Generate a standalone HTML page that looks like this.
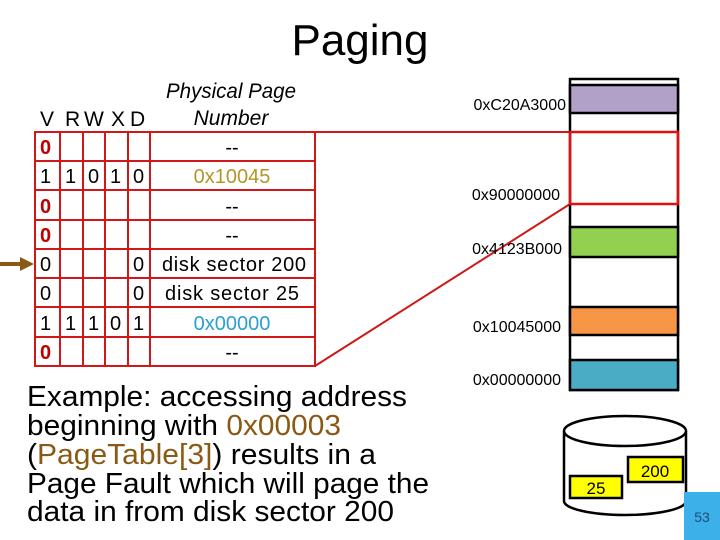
<!DOCTYPE html>
<html><head><meta charset="utf-8"><style>
html,body{margin:0;padding:0;background:#fff;width:720px;height:540px;overflow:hidden}
svg{display:block}
text{font-family:"Liberation Sans",Arial,sans-serif}
</style></head><body>
<svg width="720" height="540" viewBox="0 0 720 540" xmlns="http://www.w3.org/2000/svg">
<text x="360" y="55" font-size="44" text-anchor="middle">Paging</text>

<g font-size="21" fill="#000">
<text x="231" y="98" text-anchor="middle" font-style="italic" textLength="130" lengthAdjust="spacingAndGlyphs">Physical Page</text>
<text x="231" y="125" text-anchor="middle" font-style="italic">Number</text>
<text x="40" y="126">V</text><text x="65" y="126">R</text><text x="84" y="126">W</text><text x="111" y="126">X</text><text x="130" y="126">D</text>
</g>

<g stroke="#d01818" stroke-width="2" fill="none">
<rect x="35" y="132" width="280" height="234"/>
<line x1="60" y1="132" x2="60" y2="366"/>
<line x1="83" y1="132" x2="83" y2="366"/>
<line x1="105" y1="132" x2="105" y2="366"/>
<line x1="128" y1="132" x2="128" y2="366"/>
<line x1="150" y1="132" x2="150" y2="366"/>
<line x1="35" y1="161" x2="315" y2="161"/>
<line x1="35" y1="190" x2="315" y2="190"/>
<line x1="35" y1="220" x2="315" y2="220"/>
<line x1="35" y1="249" x2="315" y2="249"/>
<line x1="35" y1="278" x2="315" y2="278"/>
<line x1="35" y1="307" x2="315" y2="307"/>
<line x1="35" y1="337" x2="315" y2="337"/>
<line x1="315" y1="132" x2="570" y2="132"/>
<line x1="315" y1="366" x2="570" y2="204"/>
</g>
<g font-size="20">
<g fill="#c00000" font-weight="bold">
<text x="40" y="154">0</text><text x="40" y="213">0</text><text x="40" y="242">0</text><text x="40" y="359">0</text>
</g>
<text x="40" y="183">1</text><text x="65" y="183">1</text><text x="88" y="183">0</text><text x="110" y="183">1</text><text x="133" y="183">0</text>
<text x="40" y="271">0</text><text x="133" y="271">0</text>
<text x="40" y="300">0</text><text x="133" y="300">0</text>
<text x="40" y="330">1</text><text x="65" y="330">1</text><text x="88" y="330">1</text><text x="110" y="330">0</text><text x="133" y="330">1</text>
<g text-anchor="middle">
<text x="232" y="154">--</text>
<text x="232" y="183" fill="#b39628">0x10045</text>
<text x="232" y="213">--</text>
<text x="232" y="242">--</text>
<text x="234" y="271" textLength="144">disk sector 200</text>
<text x="232" y="300" textLength="134">disk sector 25</text>
<text x="232" y="330" fill="#2aa0d0">0x00000</text>
<text x="232" y="359">--</text>
</g>
</g>
<line x1="0" y1="264" x2="22" y2="264" stroke="#8a5a14" stroke-width="4"/>
<polygon points="20,257 34,264 20,271" fill="#8a5a14"/>

<g font-size="29">
<text x="27" y="406" textLength="380" lengthAdjust="spacingAndGlyphs">Example: accessing address</text>
<text x="27" y="435" textLength="314" lengthAdjust="spacingAndGlyphs">beginning with <tspan fill="#8a5a14">0x00003</tspan></text>
<text x="27" y="464" textLength="349" lengthAdjust="spacingAndGlyphs">(<tspan fill="#8a5a14">PageTable[3]</tspan>) results in a</text>
<text x="27" y="493" textLength="402" lengthAdjust="spacingAndGlyphs">Page Fault which will page the</text>
<text x="27" y="521" textLength="367" lengthAdjust="spacingAndGlyphs">data in from disk sector 200</text>
</g>

<rect x="570" y="79" width="108" height="311" fill="#fff" stroke="#000" stroke-width="2.5"/>
<rect x="570" y="85" width="108" height="28" fill="#b1a0c7" stroke="#000" stroke-width="2.5"/>
<rect x="570" y="227" width="108" height="30" fill="#92d050" stroke="#000" stroke-width="2.5"/>
<rect x="570" y="307" width="108" height="28" fill="#f79646" stroke="#000" stroke-width="2.5"/>
<rect x="570" y="360" width="108" height="30" fill="#4bacc6" stroke="#000" stroke-width="2.5"/>
<rect x="570" y="132" width="108" height="72" fill="none" stroke="#e01010" stroke-width="2.5"/>
<g font-size="16" text-anchor="end">
<text x="566" y="110">0xC20A3000</text>
<text x="560" y="200">0x90000000</text>
<text x="562" y="254">0x4123B000</text>
<text x="561" y="332">0x10045000</text>
<text x="561" y="385">0x00000000</text>
</g>

<path d="M564,431 L564,501 A61,14 0 0 0 686,501 L686,431" fill="#fff" stroke="#000" stroke-width="2.5"/>
<ellipse cx="625" cy="431" rx="61" ry="15" fill="#fff" stroke="#000" stroke-width="2.5"/>
<rect x="628" y="457" width="55" height="25" fill="#ffff00" stroke="#000" stroke-width="2.5"/>
<text x="655" y="477" font-size="17" text-anchor="middle">200</text>
<rect x="570" y="476" width="52" height="22" fill="#ffff00" stroke="#000" stroke-width="2.5"/>
<text x="596" y="494" font-size="17" text-anchor="middle">25</text>

<rect x="684" y="492" width="36" height="48" fill="#3cb0e8"/>
<text x="702" y="522" font-size="14" fill="#1f4e79" text-anchor="middle">53</text>
</svg>
</body></html>
